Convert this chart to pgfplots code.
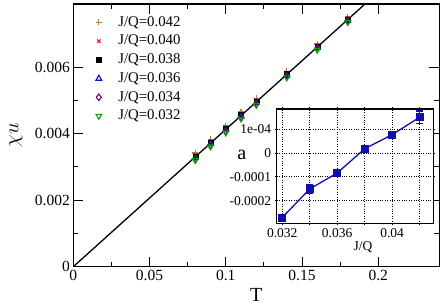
\documentclass[border=0pt]{standalone}
\usepackage{fontspec}
\setmainfont{Liberation Serif}
\usepackage{pgfplots}
\pgfplotsset{compat=1.18}
\usepackage{pgfplotstable}

\definecolor{cA}{RGB}{176,128,48}
\definecolor{cB}{RGB}{245,20,70}
\definecolor{cD}{RGB}{10,10,175}
\definecolor{cE}{RGB}{120,0,110}
\definecolor{cF}{RGB}{0,165,0}
\definecolor{cI}{RGB}{15,15,170}

\pgfplotstableread{
T a42 a40 a38 a36 a34 a32
0.08 0.00342 0.00336 0.00332 0.00328 0.00325 0.00320
0.09 0.00383 0.00378 0.00374 0.00370 0.00366 0.00361
0.10 0.00424 0.00419 0.00415 0.00411 0.00408 0.00403
0.11 0.00465 0.00460 0.00456 0.00452 0.00449 0.00445
0.12 0.00506 0.00501 0.00497 0.00493 0.00490 0.00486
0.14 0.00588 0.00583 0.00579 0.00576 0.00573 0.00569
0.16 0.00670 0.00665 0.00662 0.00659 0.00656 0.00652
0.18 0.00752 0.00747 0.00744 0.00741 0.00739 0.00735
}\chidata

\pgfplotstableread{
JQ a err
0.032 -0.000271 0.000005
0.034 -0.000151 0.000020
0.036 -0.000084 0.000014
0.038 0.000018 0.000014
0.040 0.000077 0.000011
0.042 0.000150 0.000026
}\adata

\begin{document}
\begin{tikzpicture}
\begin{axis}[name=main, at={(0,0)}, anchor=south west,
  scale only axis, width=366pt, height=262.7pt,
  xmin=0, xmax=0.24, ymin=0, ymax=0.0079,
  xtick={0,0.05,0.1,0.15,0.2}, ytick={0,0.002,0.004,0.006},
  minor x tick num=1, minor y tick num=1,
  tick align=inside, major tick length=10pt, minor tick length=5pt,
  axis line style={line width=1.3pt},
  every tick/.style={line width=1pt, black},
  scaled ticks=false,
  /pgf/number format/assume math mode=true,
  xticklabel style={/pgf/number format/fixed, /pgf/number format/precision=2},
  yticklabel style={/pgf/number format/fixed, /pgf/number format/precision=3},
  ticklabel style={font=\fontsize{15.5}{18}\selectfont},
  xlabel={T}, ylabel={$\chi u$},
  xlabel style={font=\fontsize{20}{22}\selectfont, at={(axis description cs:0.5,0)}, anchor=center, yshift=-27.8pt},
  ylabel style={font=\fontsize{20}{22}\selectfont, at={(axis description cs:-0.157,0.5)}, anchor=center},
  legend style={draw=none, fill=none, at={(axis description cs:0.061,0.955)}, anchor=north west,
    inner xsep=0pt, inner ysep=0pt,
    font=\fontsize{14.8}{16}\selectfont, row sep=5.8pt, column sep=14.5pt,
    nodes={inner xsep=2pt, inner ysep=0pt, text height=10.2pt, text depth=2.7pt}},
  legend cell align=left,
]
\addplot[black, line width=1.3pt, forget plot] coordinates {(0,0) (0.24,0.009912)};
\addplot[only marks, mark=+, color=cA, mark size=3pt, mark options={line width=1.2pt}] table[x=T, y=a42] {\chidata};
\addlegendentry{J/Q=0.042}
\addplot[only marks, mark=x, color=cB, mark size=2.5pt, mark options={line width=1.2pt}] table[x=T, y=a40] {\chidata};
\addlegendentry{J/Q=0.040}
\addplot[only marks, mark=square*, color=black, mark size=2.6pt] table[x=T, y=a38] {\chidata};
\addlegendentry{J/Q=0.038}
\addplot[only marks, mark=triangle, color=cD, mark size=3.3pt, mark options={line width=1.1pt}] table[x=T, y=a36] {\chidata};
\addlegendentry{J/Q=0.036}
\addplot[only marks, mark=diamond, color=cE, mark size=3.3pt, mark options={line width=1.1pt}] table[x=T, y=a34] {\chidata};
\addlegendentry{J/Q=0.034}
\addplot[only marks, mark=triangle, color=cF, mark size=3.3pt, mark options={line width=1.1pt, rotate=180}] table[x=T, y=a32] {\chidata};
\addlegendentry{J/Q=0.032}
\end{axis}

\begin{axis}[at={(203.4pt,43.4pt)}, anchor=south west,
  scale only axis, width=156.6pt, height=114.3pt,
  xmin=0.0316, xmax=0.043, ymin=-0.000295, ymax=0.000185,
  xtick={0.032,0.034,0.036,0.038,0.040,0.042},
  xticklabels={0.032,,0.036,,0.04,},
  ytick={-0.0002,-0.0001,0,0.0001},
  yticklabels={-0.0002,-0.0001,0,1e-04},
  grid=major, grid style={dotted, black, line width=0.8pt},
  axis background/.style={fill=white},
  axis line style={line width=1.1pt},
  tick align=outside, major tick length=2pt,
  every tick/.style={line width=0.8pt, black},
  scaled ticks=false,
  ticklabel style={font=\fontsize{13.5}{15}\selectfont},
  xlabel={J/Q}, ylabel={a},
  xlabel style={font=\fontsize{13.5}{15}\selectfont, at={(axis description cs:0.551,0)}, anchor=center, yshift=-24.2pt},
  ylabel style={font=\fontsize{20}{22}\selectfont, rotate=-90, at={(axis description cs:-0.2235,0.598)}, anchor=center},
]
\addplot[color=cI, line width=1.3pt, mark=square*, mark size=3.3pt,
  error bars/.cd, y dir=both, y explicit,
  error bar style={line width=1.3pt, color=cI},
  error mark options={rotate=90, mark size=3.5pt, line width=1.3pt, color=cI}]
  table[x=JQ, y=a, y error=err] {\adata};
\end{axis}
\pgfresetboundingbox
\path[use as bounding box] (-73.3pt,-38.3pt) rectangle (369.7pt,266.7pt);
\end{tikzpicture}
\end{document}
